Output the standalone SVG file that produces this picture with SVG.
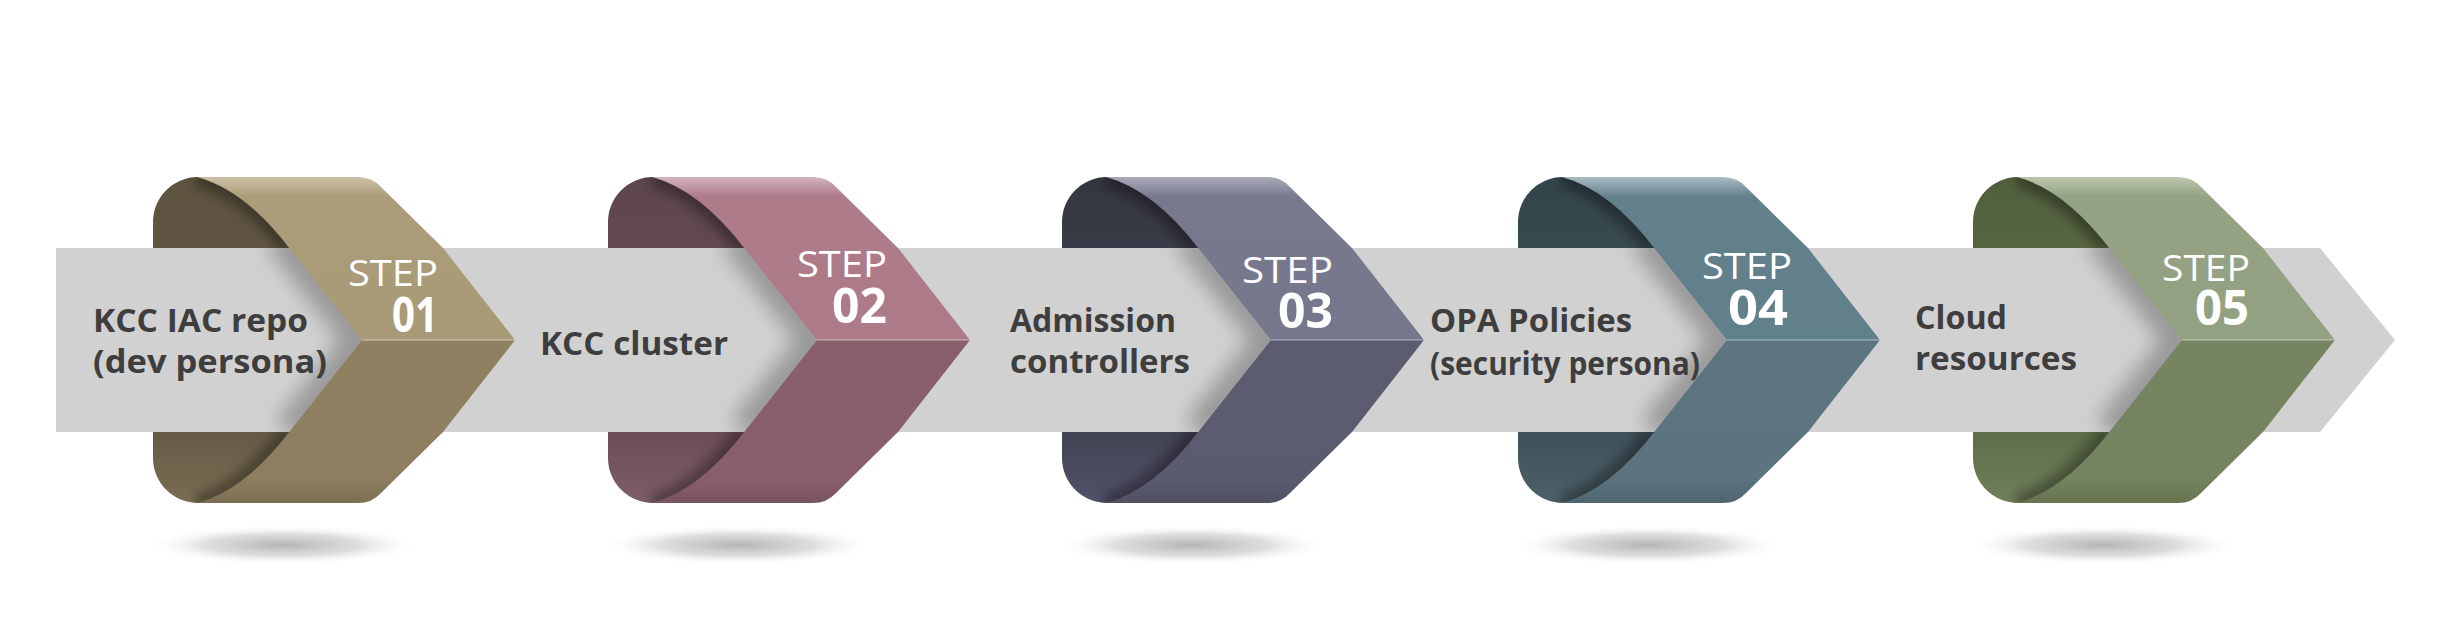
<svg xmlns="http://www.w3.org/2000/svg" width="2442" height="618" viewBox="0 0 2442 618">
<style>
.lbl{font-family:"Open Sans","Liberation Sans",sans-serif;font-weight:700;font-size:33px;fill:#3e3e3e}
.st{font-family:"Open Sans","Liberation Sans",sans-serif;font-weight:400;font-size:36px;fill:#ffffff}
.num{font-family:"Open Sans","Liberation Sans",sans-serif;font-weight:700;font-size:48px;fill:#ffffff}
.band{fill:#d1d1d1}
.fold{fill:none;stroke:#000;stroke-opacity:.35;stroke-width:18;filter:url(#blur6)}
.bshade{fill:none;stroke:#6a6a6a;stroke-opacity:.55;stroke-width:34;filter:url(#blur10)}
.crease{stroke:#ffffff;stroke-opacity:.35;stroke-width:1.5}
</style>
<defs>
<filter id="blur6" x="-50%" y="-50%" width="200%" height="200%"><feGaussianBlur stdDeviation="6"/></filter>
<filter id="blur10" x="-50%" y="-50%" width="200%" height="200%"><feGaussianBlur stdDeviation="10"/></filter>
<radialGradient id="sh"><stop offset="0" stop-color="#b4b4b4"/><stop offset="0.55" stop-color="#d2d2d2" stop-opacity=".75"/><stop offset="1" stop-color="#ffffff" stop-opacity="0"/></radialGradient>
<path id="backTop" d="M153,248 L153,222 A45,45 0 0 1 198,177 L230,180 L300,200 L300,248 Z"/>
<path id="backBot" d="M153,432 L153,458 A45,45 0 0 0 198,503 L230,500 L300,480 L300,432 Z"/>
<path id="frontTop" d="M197,177 L358,177 Q372,177 381,187 L443,248 L515,340 L362,340 L290,249 Q245,190 197,177 Z"/>
<path id="frontBot" d="M197,503 L358,503 Q372,503 381,493 L443,432 L515,340 L362,340 L290,431 Q245,490 197,503 Z"/>
<clipPath id="cBackTop"><use href="#backTop"/></clipPath>
<clipPath id="cBackBot"><use href="#backBot"/></clipPath>
<clipPath id="cBand"><rect x="0" y="248" width="600" height="184"/></clipPath>
<linearGradient id="ft1" x1="0" y1="0" x2="0" y2="1"><stop offset="0" stop-color="#cdc1a6"/><stop offset="0.12" stop-color="#ab9c7a"/><stop offset="1" stop-color="#a89977"/></linearGradient>
<linearGradient id="fb1" x1="0" y1="0" x2="0" y2="1"><stop offset="0" stop-color="#8f8061"/><stop offset="0.85" stop-color="#8d7e5f"/><stop offset="1" stop-color="#7c6e52"/></linearGradient>
<linearGradient id="bt1" x1="0" y1="0" x2="0" y2="1"><stop offset="0" stop-color="#5e533f"/><stop offset="1" stop-color="#605542"/></linearGradient>
<linearGradient id="bb1" x1="0" y1="0" x2="0" y2="1"><stop offset="0" stop-color="#655a45"/><stop offset="1" stop-color="#7a6d53"/></linearGradient>
<linearGradient id="ft2" x1="0" y1="0" x2="0" y2="1"><stop offset="0" stop-color="#d2b4bc"/><stop offset="0.12" stop-color="#ae7b89"/><stop offset="1" stop-color="#ad7a88"/></linearGradient>
<linearGradient id="fb2" x1="0" y1="0" x2="0" y2="1"><stop offset="0" stop-color="#8a5f6c"/><stop offset="0.85" stop-color="#895e6b"/><stop offset="1" stop-color="#7a5360"/></linearGradient>
<linearGradient id="bt2" x1="0" y1="0" x2="0" y2="1"><stop offset="0" stop-color="#5e4550"/><stop offset="1" stop-color="#624852"/></linearGradient>
<linearGradient id="bb2" x1="0" y1="0" x2="0" y2="1"><stop offset="0" stop-color="#6a4c57"/><stop offset="1" stop-color="#7f5e6a"/></linearGradient>
<linearGradient id="ft3" x1="0" y1="0" x2="0" y2="1"><stop offset="0" stop-color="#a9aab8"/><stop offset="0.12" stop-color="#78798f"/><stop offset="1" stop-color="#75778d"/></linearGradient>
<linearGradient id="fb3" x1="0" y1="0" x2="0" y2="1"><stop offset="0" stop-color="#5b5c70"/><stop offset="0.85" stop-color="#5a5b6f"/><stop offset="1" stop-color="#4f5062"/></linearGradient>
<linearGradient id="bt3" x1="0" y1="0" x2="0" y2="1"><stop offset="0" stop-color="#34363f"/><stop offset="1" stop-color="#393b48"/></linearGradient>
<linearGradient id="bb3" x1="0" y1="0" x2="0" y2="1"><stop offset="0" stop-color="#424352"/><stop offset="1" stop-color="#51526a"/></linearGradient>
<linearGradient id="ft4" x1="0" y1="0" x2="0" y2="1"><stop offset="0" stop-color="#a9bcc3"/><stop offset="0.12" stop-color="#63808c"/><stop offset="1" stop-color="#60808c"/></linearGradient>
<linearGradient id="fb4" x1="0" y1="0" x2="0" y2="1"><stop offset="0" stop-color="#5c7581"/><stop offset="0.85" stop-color="#5b7480"/><stop offset="1" stop-color="#4f6670"/></linearGradient>
<linearGradient id="bt4" x1="0" y1="0" x2="0" y2="1"><stop offset="0" stop-color="#33444b"/><stop offset="1" stop-color="#384950"/></linearGradient>
<linearGradient id="bb4" x1="0" y1="0" x2="0" y2="1"><stop offset="0" stop-color="#3e5059"/><stop offset="1" stop-color="#4e6169"/></linearGradient>
<linearGradient id="ft5" x1="0" y1="0" x2="0" y2="1"><stop offset="0" stop-color="#bcc6ae"/><stop offset="0.12" stop-color="#95a284"/><stop offset="1" stop-color="#93a183"/></linearGradient>
<linearGradient id="fb5" x1="0" y1="0" x2="0" y2="1"><stop offset="0" stop-color="#768461"/><stop offset="0.85" stop-color="#758360"/><stop offset="1" stop-color="#67744f"/></linearGradient>
<linearGradient id="bt5" x1="0" y1="0" x2="0" y2="1"><stop offset="0" stop-color="#525f3e"/><stop offset="1" stop-color="#586541"/></linearGradient>
<linearGradient id="bb5" x1="0" y1="0" x2="0" y2="1"><stop offset="0" stop-color="#5e6c49"/><stop offset="1" stop-color="#717f5b"/></linearGradient>
</defs>
<rect width="2442" height="618" fill="#ffffff"/>

<g id="shadows">
<ellipse cx="283" cy="545" rx="138" ry="20" fill="url(#sh)"/>
<ellipse cx="738" cy="545" rx="138" ry="20" fill="url(#sh)"/>
<ellipse cx="1192" cy="545" rx="138" ry="20" fill="url(#sh)"/>
<ellipse cx="1648" cy="545" rx="138" ry="20" fill="url(#sh)"/>
<ellipse cx="2103" cy="545" rx="138" ry="20" fill="url(#sh)"/>
</g>

<g id="connectors">
<path class="band" d="M56,248 L2320,248 L2395,340 L2320,432 L56,432 Z"/>
</g>

<g id="step1">
<g transform="translate(0,0)">
<use href="#backTop" fill="url(#bt1)"/><use href="#backBot" fill="url(#bb1)"/>
<path class="fold" clip-path="url(#cBackTop)" d="M197,177 Q245,190 290,249"/>
<path class="fold" clip-path="url(#cBackBot)" d="M197,503 Q245,490 290,431"/>
<path class="bshade" clip-path="url(#cBand)" d="M280,236 L362,340 L290,431"/>
<use href="#frontTop" fill="url(#ft1)"/><use href="#frontBot" fill="url(#fb1)"/>
<line class="crease" x1="362" y1="340" x2="515" y2="340"/>
</g>
<text class="st" x="348" y="286" textLength="90" lengthAdjust="spacingAndGlyphs">STEP</text>
<text class="num" x="392" y="332" textLength="46" lengthAdjust="spacingAndGlyphs">01</text>
<text class="lbl" x="93" y="332" textLength="215" lengthAdjust="spacingAndGlyphs">KCC IAC repo</text>
<text class="lbl" x="93" y="373" textLength="234" lengthAdjust="spacingAndGlyphs">(dev persona)</text>
</g>

<g id="step2">
<g transform="translate(455,0)">
<use href="#backTop" fill="url(#bt2)"/><use href="#backBot" fill="url(#bb2)"/>
<path class="fold" clip-path="url(#cBackTop)" d="M197,177 Q245,190 290,249"/>
<path class="fold" clip-path="url(#cBackBot)" d="M197,503 Q245,490 290,431"/>
<path class="bshade" clip-path="url(#cBand)" d="M280,236 L362,340 L290,431"/>
<use href="#frontTop" fill="url(#ft2)"/><use href="#frontBot" fill="url(#fb2)"/>
<line class="crease" x1="362" y1="340" x2="515" y2="340"/>
</g>
<text class="st" x="797" y="277" textLength="90" lengthAdjust="spacingAndGlyphs">STEP</text>
<text class="num" x="832" y="323" textLength="55" lengthAdjust="spacingAndGlyphs">02</text>
<text class="lbl" x="540" y="355" textLength="188" lengthAdjust="spacingAndGlyphs">KCC cluster</text>
</g>

<g id="step3">
<g transform="translate(909,0)">
<use href="#backTop" fill="url(#bt3)"/><use href="#backBot" fill="url(#bb3)"/>
<path class="fold" clip-path="url(#cBackTop)" d="M197,177 Q245,190 290,249"/>
<path class="fold" clip-path="url(#cBackBot)" d="M197,503 Q245,490 290,431"/>
<path class="bshade" clip-path="url(#cBand)" d="M280,236 L362,340 L290,431"/>
<use href="#frontTop" fill="url(#ft3)"/><use href="#frontBot" fill="url(#fb3)"/>
<line class="crease" x1="362" y1="340" x2="515" y2="340"/>
</g>
<text class="st" x="1242" y="283" textLength="91" lengthAdjust="spacingAndGlyphs">STEP</text>
<text class="num" x="1278" y="328" textLength="55" lengthAdjust="spacingAndGlyphs">03</text>
<text class="lbl" x="1010" y="332" textLength="166" lengthAdjust="spacingAndGlyphs">Admission</text>
<text class="lbl" x="1010" y="373" textLength="180" lengthAdjust="spacingAndGlyphs">controllers</text>
</g>

<g id="step4">
<g transform="translate(1365,0)">
<use href="#backTop" fill="url(#bt4)"/><use href="#backBot" fill="url(#bb4)"/>
<path class="fold" clip-path="url(#cBackTop)" d="M197,177 Q245,190 290,249"/>
<path class="fold" clip-path="url(#cBackBot)" d="M197,503 Q245,490 290,431"/>
<path class="bshade" clip-path="url(#cBand)" d="M280,236 L362,340 L290,431"/>
<use href="#frontTop" fill="url(#ft4)"/><use href="#frontBot" fill="url(#fb4)"/>
<line class="crease" x1="362" y1="340" x2="515" y2="340"/>
</g>
<text class="st" x="1702" y="279" textLength="90" lengthAdjust="spacingAndGlyphs">STEP</text>
<text class="num" x="1728" y="325" textLength="60" lengthAdjust="spacingAndGlyphs">04</text>
<text class="lbl" x="1430" y="332" textLength="202" lengthAdjust="spacingAndGlyphs">OPA Policies</text>
<text class="lbl" x="1430" y="375" textLength="270" lengthAdjust="spacingAndGlyphs">(security persona)</text>
</g>

<g id="step5">
<g transform="translate(1820,0)">
<use href="#backTop" fill="url(#bt5)"/><use href="#backBot" fill="url(#bb5)"/>
<path class="fold" clip-path="url(#cBackTop)" d="M197,177 Q245,190 290,249"/>
<path class="fold" clip-path="url(#cBackBot)" d="M197,503 Q245,490 290,431"/>
<path class="bshade" clip-path="url(#cBand)" d="M280,236 L362,340 L290,431"/>
<use href="#frontTop" fill="url(#ft5)"/><use href="#frontBot" fill="url(#fb5)"/>
<line class="crease" x1="362" y1="340" x2="515" y2="340"/>
</g>
<text class="st" x="2162" y="281" textLength="88" lengthAdjust="spacingAndGlyphs">STEP</text>
<text class="num" x="2195" y="325" textLength="54" lengthAdjust="spacingAndGlyphs">05</text>
<text class="lbl" x="1915" y="329" textLength="92" lengthAdjust="spacingAndGlyphs">Cloud</text>
<text class="lbl" x="1915" y="370" textLength="162" lengthAdjust="spacingAndGlyphs">resources</text>
</g>
</svg>
